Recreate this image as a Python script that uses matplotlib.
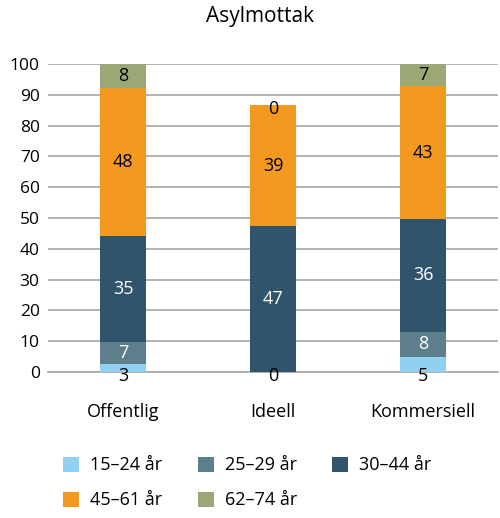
import numpy as np
import matplotlib
matplotlib.use("Agg")
import matplotlib.pyplot as plt
from matplotlib.patches import Patch

plt.rcParams['font.family'] = ['Open Sans', 'DejaVu Sans']

# data (share in %)
categories = ['Offentlig', 'Ideell', 'Kommersiell']
groups = ['15–24 år', '25–29 år', '30–44 år', '45–61 år', '62–74 år']
age_15_24 = [2.6, 0.0, 4.8]
age_25_29 = [7.0, 0.0, 8.3]
age_30_44 = [34.6, 47.3, 36.5]
age_45_61 = [48.1, 39.4, 43.3]
age_62_74 = [7.7, 0.0, 7.1]
series = [age_15_24, age_25_29, age_30_44, age_45_61, age_62_74]

colors = ['#92d0f2', '#5c7f8b', '#30546c', '#f4991f', '#9ba876']
text_colors = ['black', 'white', 'white', 'black', 'black']

fig = plt.figure(figsize=(5.0, 5.18), dpi=100)
ax = fig.add_axes([0.096, 0.2819, 0.9, 0.5945])

x = np.arange(len(categories))
width = 0.31
bottom = np.zeros(len(categories))
placed = set()
for vals, col, tcol in zip(series, colors, text_colors):
    vals = np.array(vals)
    ax.bar(x, vals, width, bottom=bottom, color=col, zorder=3)
    for xi, b, v in zip(x, bottom, vals):
        lab = f'{round(v):.0f}'
        if v < 6:
            # small segments: label just under the segment
            key = (xi, round(b, 1))
            if key in placed:
                continue
            placed.add(key)
            ax.annotate(lab, xy=(xi, b), xytext=(0, -3), textcoords='offset points',
                        ha='center', va='center', fontsize=13, color='black', zorder=4)
        else:
            ax.text(xi, b + v / 2, lab, ha='center', va='center',
                    fontsize=13, color=tcol, zorder=4)
    bottom += vals

ax.set_xlim(-0.5, 2.5)
ax.set_ylim(0, 100)
ax.set_yticks(np.arange(0, 101, 10))
ax.yaxis.grid(True, color='#a6a6a6', linewidth=1.2, zorder=0)
ax.set_axisbelow(True)
for s in ['top', 'right', 'left']:
    ax.spines[s].set_visible(False)
ax.spines['bottom'].set_color('#a6a6a6')
ax.spines['bottom'].set_linewidth(1.2)
ax.set_xticks(x)
ax.set_xticklabels(categories, fontsize=13)
ax.tick_params(axis='x', length=0, pad=22)
ax.tick_params(axis='y', length=0, pad=6, labelsize=12.5)

fig.text(0.52, 0.968, 'Asylmottak', ha='center', va='center', fontsize=15)

handles = [Patch(facecolor=c, label=g) for c, g in zip(colors, groups)]
order = [0, 3, 1, 4, 2]
fig.legend([handles[i] for i in order], [groups[i] for i in order],
           ncol=3, loc='upper left', bbox_to_anchor=(0.112, 0.133),
           frameon=False, fontsize=13, handlelength=0.9, handleheight=0.9,
           handletextpad=0.6, columnspacing=1.95, labelspacing=0.95,
           borderaxespad=0)

fig.savefig('out.png', dpi=100)
